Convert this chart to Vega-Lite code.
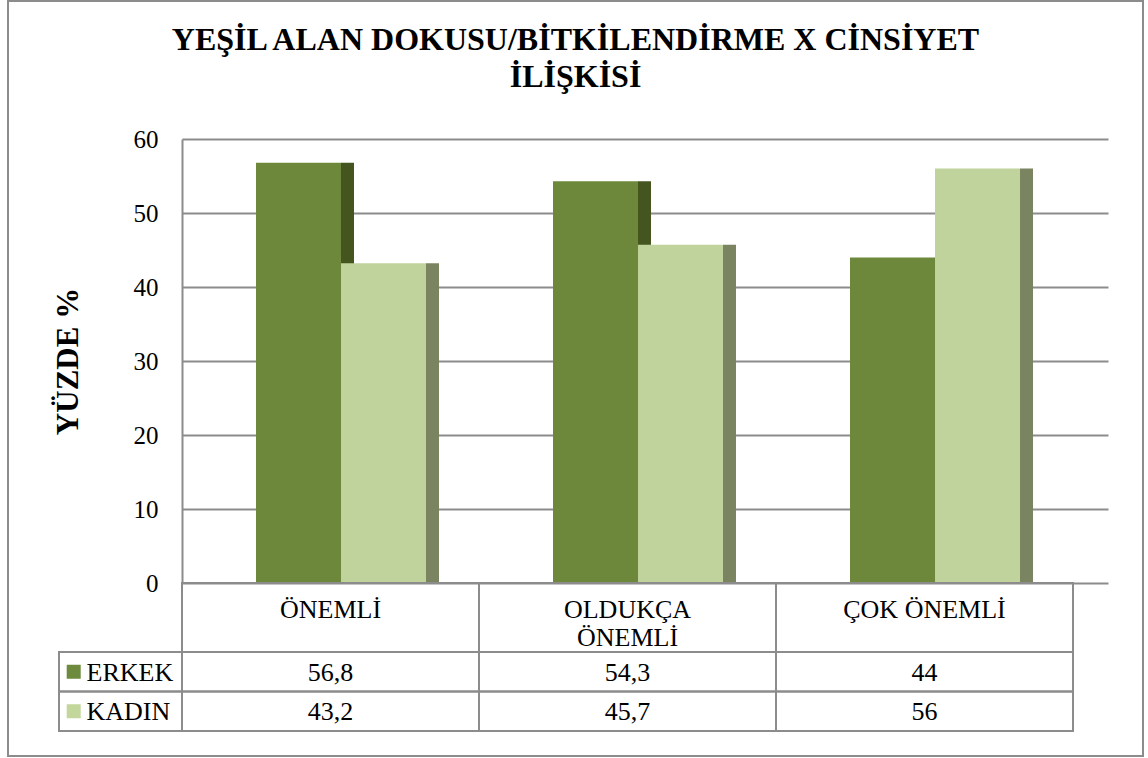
{
  "$schema": "https://vega.github.io/schema/vega-lite/v6.json",
  "width": 1135,
  "height": 755,
  "autosize": {"type": "none"},
  "padding": {"left": 8, "top": 1, "right": 5, "bottom": 2},
  "background": "white",
  "config": {
    "view": {"stroke": "#8c8c8c", "strokeWidth": 2},
    "font": "Liberation Serif",
    "locale": {"number": {"decimal": ",", "thousands": ".", "grouping": [3], "currency": ["", " TL"]}}
  },
  "title": {
    "text": ["YEŞİL ALAN DOKUSU/BİTKİLENDİRME X CİNSİYET", "İLİŞKİSİ"],
    "font": "Liberation Serif",
    "fontSize": 32,
    "fontWeight": "bold",
    "color": "black",
    "anchor": "middle",
    "lineHeight": 37,
    "offset": -93
  },
  "datasets": {
    "veri": [
      {"kategori": "ÖNEMLİ", "cinsiyet": "ERKEK", "yuzde": 56.8},
      {"kategori": "ÖNEMLİ", "cinsiyet": "KADIN", "yuzde": 43.2},
      {"kategori": "OLDUKÇA ÖNEMLİ", "cinsiyet": "ERKEK", "yuzde": 54.3},
      {"kategori": "OLDUKÇA ÖNEMLİ", "cinsiyet": "KADIN", "yuzde": 45.7},
      {"kategori": "ÇOK ÖNEMLİ", "cinsiyet": "ERKEK", "yuzde": 44},
      {"kategori": "ÇOK ÖNEMLİ", "cinsiyet": "KADIN", "yuzde": 56}
    ]
  },
  "data": {"name": "veri"},
  "layer": [
    {
      "mark": {"type": "bar", "width": 13},
      "encoding": {
        "x": {"field": "kategori", "type": "nominal", "sort": null,
              "scale": {"domain": ["ÖNEMLİ", "OLDUKÇA ÖNEMLİ", "ÇOK ÖNEMLİ"], "range": [174, 1100], "paddingInner": 0, "paddingOuter": 0.0589, "align": 0},
              "axis": null},
        "xOffset": {"field": "cinsiyet", "type": "nominal",
                    "scale": {"domain": ["ERKEK", "KADIN"], "paddingInner": 0, "paddingOuter": 0.747, "align": 0.9685}},
        "y": {"field": "yuzde", "type": "quantitative",
              "scale": {"domain": [0, 60], "range": [582, 138], "nice": false, "zero": true},
              "axis": null},
        "color": {"field": "cinsiyet", "type": "nominal",
                  "scale": {"domain": ["ERKEK", "KADIN"], "range": ["#44551F", "#7A8460"]},
                  "legend": null}
      }
    },
    {
      "mark": {"type": "bar"},
      "encoding": {
        "x": {"field": "kategori", "type": "nominal", "sort": null,
              "scale": {"domain": ["ÖNEMLİ", "OLDUKÇA ÖNEMLİ", "ÇOK ÖNEMLİ"], "range": [174, 1100], "paddingInner": 0, "paddingOuter": 0.0589, "align": 0},
              "axis": null},
        "xOffset": {"field": "cinsiyet", "type": "nominal",
                    "scale": {"domain": ["ERKEK", "KADIN"], "paddingInner": 0, "paddingOuter": 0.747, "align": 0.5827}},
        "y": {"field": "yuzde", "type": "quantitative",
              "scale": {"domain": [0, 60], "range": [582, 138], "nice": false, "zero": true},
              "axis": {
                "orient": "left", "offset": -174,
                "values": [0, 10, 20, 30, 40, 50, 60],
                "ticks": false, "tickSize": 0,
                "grid": true, "gridColor": "#8c8c8c", "gridWidth": 2,
                "domain": true, "domainColor": "#8c8c8c", "domainWidth": 2,
                "labelFont": "Liberation Serif", "labelFontSize": 25, "labelColor": "black", "labelPadding": 24,
                "title": "YÜZDE %", "titleFont": "Liberation Serif", "titleFontSize": 31, "titleFontWeight": "bold",
                "titleColor": "black", "titlePadding": 49
              }},
        "color": {"field": "cinsiyet", "type": "nominal",
                  "scale": {"domain": ["ERKEK", "KADIN"], "range": ["#6D883A", "#C0D39C"]},
                  "legend": null}
      }
    },
    {
      "transform": [{"aggregate": [{"op": "count", "as": "n"}], "groupby": ["kategori"]}],
      "mark": {"type": "rect", "filled": false, "color": "#8c8c8c", "strokeWidth": 2},
      "encoding": {
        "x": {"field": "kategori", "type": "nominal", "sort": null,
              "scale": {"domain": ["ÖNEMLİ", "OLDUKÇA ÖNEMLİ", "ÇOK ÖNEMLİ"], "range": [174, 1065], "paddingInner": 0, "paddingOuter": 0},
              "axis": null},
        "y": {"datum": "baslik", "type": "nominal",
              "scale": {"domain": ["baslik"], "range": [582, 651], "paddingInner": 0, "paddingOuter": 0},
              "axis": null}
      }
    },
    {
      "transform": [{"aggregate": [{"op": "count", "as": "n"}], "groupby": ["kategori"]}],
      "mark": {"type": "text", "font": "Liberation Serif", "fontSize": 26, "color": "black", "baseline": "alphabetic", "lineHeight": 28},
      "encoding": {
        "x": {"field": "kategori", "type": "nominal", "sort": null,
              "scale": {"domain": ["ÖNEMLİ", "OLDUKÇA ÖNEMLİ", "ÇOK ÖNEMLİ"], "range": [174, 1065], "paddingInner": 0, "paddingOuter": 0},
              "axis": null},
        "y": {"datum": "baslik", "type": "nominal",
              "scale": {"domain": ["baslik"], "range": [582, 651], "paddingInner": 0, "paddingOuter": 0},
              "axis": null},
        "text": {"condition": {"test": "datum.kategori === 'OLDUKÇA ÖNEMLİ'", "value": ["OLDUKÇA", "ÖNEMLİ"]},
                 "field": "kategori"}
      }
    },
    {
      "mark": {"type": "rect", "filled": false, "color": "#8c8c8c", "strokeWidth": 2},
      "encoding": {
        "x": {"field": "kategori", "type": "nominal", "sort": null,
              "scale": {"domain": ["ÖNEMLİ", "OLDUKÇA ÖNEMLİ", "ÇOK ÖNEMLİ"], "range": [174, 1065], "paddingInner": 0, "paddingOuter": 0},
              "axis": null},
        "y": {"field": "cinsiyet", "type": "nominal",
              "scale": {"domain": ["ERKEK", "KADIN"], "range": [651, 730], "paddingInner": 0, "paddingOuter": 0},
              "axis": null}
      }
    },
    {
      "mark": {"type": "text", "font": "Liberation Serif", "fontSize": 26, "color": "black", "baseline": "middle", "dy": 1},
      "encoding": {
        "x": {"field": "kategori", "type": "nominal", "sort": null,
              "scale": {"domain": ["ÖNEMLİ", "OLDUKÇA ÖNEMLİ", "ÇOK ÖNEMLİ"], "range": [174, 1065], "paddingInner": 0, "paddingOuter": 0},
              "axis": null},
        "y": {"field": "cinsiyet", "type": "nominal",
              "scale": {"domain": ["ERKEK", "KADIN"], "range": [651, 730], "paddingInner": 0, "paddingOuter": 0},
              "axis": null},
        "text": {"field": "yuzde", "type": "quantitative", "format": "~g"}
      }
    },
    {
      "transform": [{"aggregate": [{"op": "count", "as": "n"}], "groupby": ["cinsiyet"]}],
      "mark": {"type": "rect", "filled": false, "color": "#8c8c8c", "strokeWidth": 2},
      "encoding": {
        "x": {"datum": "lejant", "type": "nominal",
              "scale": {"domain": ["lejant"], "range": [51, 174], "paddingInner": 0, "paddingOuter": 0},
              "axis": null},
        "y": {"field": "cinsiyet", "type": "nominal",
              "scale": {"domain": ["ERKEK", "KADIN"], "range": [651, 730], "paddingInner": 0, "paddingOuter": 0},
              "axis": null}
      }
    },
    {
      "transform": [{"aggregate": [{"op": "count", "as": "n"}], "groupby": ["cinsiyet"]}],
      "mark": {"type": "square", "size": 196, "opacity": 1, "filled": true, "xOffset": -46.8},
      "encoding": {
        "x": {"datum": "lejant", "type": "nominal",
              "scale": {"domain": ["lejant"], "range": [51, 174], "paddingInner": 0, "paddingOuter": 0},
              "axis": null},
        "y": {"field": "cinsiyet", "type": "nominal",
              "scale": {"domain": ["ERKEK", "KADIN"], "range": [651, 730], "paddingInner": 0, "paddingOuter": 0},
              "axis": null},
        "color": {"field": "cinsiyet", "type": "nominal",
                  "scale": {"domain": ["ERKEK", "KADIN"], "range": ["#6E8B3D", "#C3D69B"]},
                  "legend": null}
      }
    },
    {
      "transform": [{"aggregate": [{"op": "count", "as": "n"}], "groupby": ["cinsiyet"]}],
      "mark": {"type": "text", "font": "Liberation Serif", "fontSize": 26, "color": "black", "align": "left", "baseline": "middle", "dx": -34, "dy": 1},
      "encoding": {
        "x": {"datum": "lejant", "type": "nominal",
              "scale": {"domain": ["lejant"], "range": [51, 174], "paddingInner": 0, "paddingOuter": 0},
              "axis": null},
        "y": {"field": "cinsiyet", "type": "nominal",
              "scale": {"domain": ["ERKEK", "KADIN"], "range": [651, 730], "paddingInner": 0, "paddingOuter": 0},
              "axis": null},
        "text": {"field": "cinsiyet"}
      }
    }
  ],
  "resolve": {
    "scale": {"x": "independent", "y": "independent", "color": "independent", "xOffset": "independent"},
    "axis": {"x": "independent", "y": "independent"}
  }
}
